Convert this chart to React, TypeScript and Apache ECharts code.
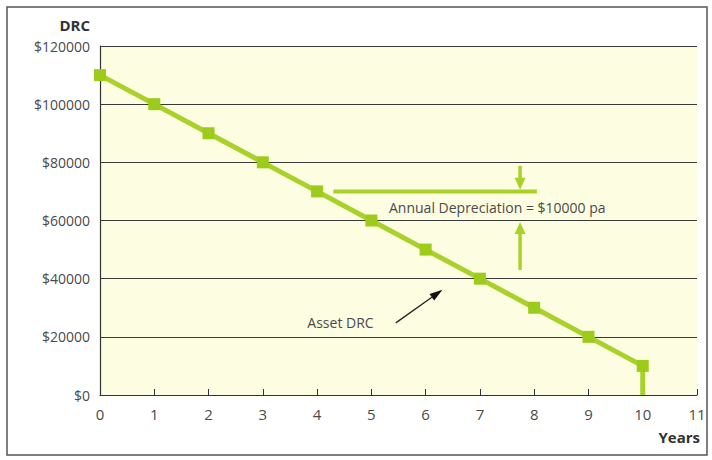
import React, { useEffect, useRef } from "react";
import * as echarts from "echarts";

const years = [0, 1, 2, 3, 4, 5, 6, 7, 8, 9, 10];
const drc = [110000, 100000, 90000, 80000, 70000, 60000, 50000, 40000, 30000, 20000, 10000];
const xTicks = [0, 1, 2, 3, 4, 5, 6, 7, 8, 9, 10, 11];
const yTicks = [0, 20000, 40000, 60000, 80000, 100000, 120000];
const depLine = [[4.3, 70000], [8.05, 70000]];
const downArrow = [[7.74, 78800], [7.74, 70600]];
const upArrow = [[7.74, 43000], [7.74, 59500]];
const depLabel = { x: 7.32, y: 64400, text: "Annual Depreciation = $10000 pa" };
const assetLabel = { x: 3.82, y: 25000, text: "Asset DRC" };
const assetArrow = [[5.45, 24800], [6.31, 36200]];

const GREEN = "#a8d12a";
const FONT = "'Open Sans', 'Noto Sans', sans-serif";

export default function App() {
  const ref = useRef<HTMLDivElement>(null);
  useEffect(() => {
    document.body.style.margin = "0";
    if (!ref.current) return;
    const chart = echarts.init(ref.current, undefined, { renderer: "svg" });
    const lineData = years.map((y, i) => [y, drc[i]]);
    chart.setOption({
      animation: false,
      backgroundColor: "#ffffff",
      grid: {
        left: 100,
        right: 15,
        top: 46,
        bottom: 65,
        show: true,
        backgroundColor: "#fdfde2",
        borderWidth: 0,
      },
      xAxis: {
        type: "value",
        min: xTicks[0],
        max: xTicks[xTicks.length - 1],
        interval: 1,
        axisLine: { show: true, lineStyle: { color: "#333", width: 1.2 } },
        axisTick: { show: true, inside: true, length: 6, lineStyle: { color: "#333" } },
        axisLabel: { color: "#4a4a4a", fontSize: 15, fontFamily: FONT, margin: 11 },
        splitLine: { show: false },
      },
      yAxis: {
        type: "value",
        min: yTicks[0],
        max: yTicks[yTicks.length - 1],
        interval: 20000,
        axisLine: { show: true, lineStyle: { color: "#333", width: 1.2 } },
        axisTick: { show: false },
        axisLabel: {
          color: "#4a4a4a",
          fontSize: 14,
          fontFamily: FONT,
          margin: 10,
          formatter: (v: number) => "$" + v,
        },
        splitLine: { show: true, lineStyle: { color: "#3a3a3a", width: 1.2 } },
      },
      series: [
        {
          type: "line",
          data: lineData,
          symbol: "rect",
          symbolSize: 12,
          lineStyle: { color: GREEN, width: 5 },
          itemStyle: { color: "#9ccb1c" },
          z: 5,
        },
        {
          type: "line",
          data: [[years[years.length - 1], drc[drc.length - 1]], [years[years.length - 1], 0]],
          symbol: "none",
          lineStyle: { color: GREEN, width: 5 },
          z: 4,
        },
        {
          type: "line",
          data: depLine,
          symbol: "none",
          lineStyle: { color: GREEN, width: 4 },
          z: 4,
        },
      ],
    });

    const px = (p: number[]) => chart.convertToPixel({ gridIndex: 0 }, p) as number[];
    const greenArrow = (from: number[], to: number[]) => {
      const a = px(from);
      const b = px(to);
      const dir = b[1] > a[1] ? 1 : -1;
      const headL = 12;
      const headW = 5.5;
      return [
        {
          type: "line",
          shape: { x1: a[0], y1: a[1], x2: b[0], y2: b[1] - dir * headL + dir * 1 },
          style: { stroke: GREEN, lineWidth: 3.5 },
        },
        {
          type: "polygon",
          shape: {
            points: [
              [b[0] - headW, b[1] - dir * headL],
              [b[0] + headW, b[1] - dir * headL],
              [b[0], b[1]],
            ],
          },
          style: { fill: GREEN },
        },
      ];
    };
    const a0 = px(assetArrow[0]);
    const a1 = px(assetArrow[1]);
    const dx = a1[0] - a0[0];
    const dy = a1[1] - a0[1];
    const len = Math.sqrt(dx * dx + dy * dy);
    const ux = dx / len;
    const uy = dy / len;
    const hl = 13;
    const hw = 4;
    const bx = a1[0] - ux * hl;
    const by = a1[1] - uy * hl;
    const dl = px([depLabel.x, depLabel.y]);
    const al = px([assetLabel.x, assetLabel.y]);

    chart.setOption({
      graphic: [
        {
          type: "rect",
          shape: { x: 7, y: 7, width: 700, height: 448 },
          style: { fill: "none", stroke: "#555", lineWidth: 1.5 },
          silent: true,
        },
        {
          type: "text",
          x: 90,
          y: 25,
          style: {
            text: "DRC",
            fill: "#333",
            font: "bold 15px " + FONT,
            align: "right",
            verticalAlign: "middle",
          },
        },
        {
          type: "text",
          x: 700,
          y: 437,
          style: {
            text: "Years",
            fill: "#333",
            font: "bold 15px " + FONT,
            align: "right",
            verticalAlign: "middle",
          },
        },
        ...greenArrow(downArrow[0], downArrow[1]),
        ...greenArrow(upArrow[0], upArrow[1]),
        {
          type: "text",
          x: dl[0],
          y: dl[1],
          style: {
            text: depLabel.text,
            fill: "#4a4a4a",
            font: "14px " + FONT,
            align: "center",
            verticalAlign: "middle",
          },
        },
        {
          type: "text",
          x: al[0],
          y: al[1],
          style: {
            text: assetLabel.text,
            fill: "#4a4a4a",
            font: "14px " + FONT,
            align: "left",
            verticalAlign: "middle",
          },
        },
        {
          type: "line",
          shape: { x1: a0[0], y1: a0[1], x2: bx, y2: by },
          style: { stroke: "#222", lineWidth: 1.3 },
        },
        {
          type: "polygon",
          shape: {
            points: [
              [bx - uy * hw, by + ux * hw],
              [bx + uy * hw, by - ux * hw],
              [a1[0], a1[1]],
            ],
          },
          style: { fill: "#111" },
        },
      ],
    });
    return () => chart.dispose();
  }, []);
  return <div ref={ref} style={{ width: 712, height: 460 }} />;
}
